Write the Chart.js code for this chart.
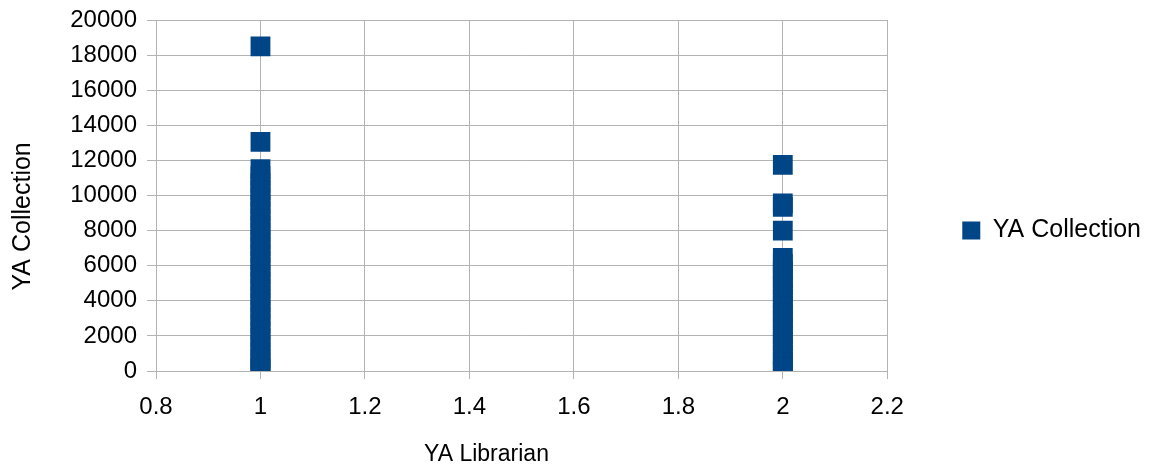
<!DOCTYPE html>
<html>
<head>
<meta charset="utf-8">
<script src="https://cdn.jsdelivr.net/npm/chart.js@4"></script>
<style>
	html, body { margin: 0; padding: 0; background: #ffffff; }
	#box { width: 1151px; height: 471px; }
</style>
</head>
<body>
<div id="box"><canvas id="my_chart" width="1151" height="471"></canvas></div>
<script>
// YA Librarian (x) vs YA Collection (y)
const librarianOne = [18500, 13050, 11500, 11100, 10700, 10300, 9900, 9500, 9100, 8700,
	8300, 7900, 7500, 7100, 6700, 6300, 5900, 5500, 5100, 4700, 4300, 3900, 3500,
	3100, 2700, 2300, 1900, 1500, 1100, 700, 400, 150, 0]
const librarianTwo = [11750, 9550, 9350, 8000, 6450, 6100, 5700, 5300, 4900, 4500,
	4100, 3700, 3300, 2900, 2500, 2100, 1700, 1300, 900, 500, 200, 0]
const xTicks = [0.8, 1, 1.2, 1.4, 1.6, 1.8, 2, 2.2]
const yTicks = [0, 2000, 4000, 6000, 8000, 10000, 12000, 14000, 16000, 18000, 20000]

const points = librarianOne.map(v => ({x: 1, y: v}))
	.concat(librarianTwo.map(v => ({x: 2, y: v})))

Chart.defaults.font.family = "'Liberation Sans', Arial, sans-serif"
Chart.defaults.font.size = 24
Chart.defaults.color = '#000000'

// nudge the legend up a little, LibreOffice style
const legendShift = {
	id: 'legendShift',
	afterLayout(chart) {
		chart.legend.top -= 15
		chart.legend.bottom -= 15
	}
}

var ctx = document.getElementById('my_chart')
var chart = new Chart(ctx, {
	type: 'scatter',
	data: {
		datasets: [{
			label: 'YA Collection',
			data: points,
			pointStyle: 'rect',
			pointRadius: 14,
			pointHoverRadius: 14,
			borderWidth: 0,
			backgroundColor: '#004586',
			borderColor: '#004586'
		}]
	},
	plugins: [legendShift],
	options: {
		responsive: false,
		animation: false,
		layout: { padding: { top: 20, left: 0, right: 0, bottom: 0 } },
		plugins: {
			tooltip: { enabled: false },
			legend: {
				position: 'right',
				labels: {
					boxWidth: 18,
					boxHeight: 18,
					padding: 75,
					font: { size: 25 },
					color: '#000000'
				}
			}
		},
		scales: {
			x: {
				type: 'linear',
				min: 0.8,
				max: 2.2,
				afterBuildTicks: s => { s.ticks = xTicks.map(v => ({value: v})) },
				afterFit: s => { s.height = 100 },
				ticks: { padding: 14, color: '#000000', callback: v => String(Math.round(v * 10) / 10) },
				grid: { color: '#b3b3b3', tickLength: 8 },
				border: { color: '#b3b3b3' },
				title: {
					display: true,
					text: 'YA Librarian           ',
					font: { size: 23 },
					padding: { top: 0, bottom: 3 },
					color: '#000000'
				}
			},
			y: {
				type: 'linear',
				min: 0,
				max: 20000,
				afterBuildTicks: s => { s.ticks = yTicks.map(v => ({value: v})) },
				afterFit: s => { s.width = 156; s.paddingTop = 0 },
				ticks: { padding: 10, color: '#000000', callback: v => String(v) },
				grid: { color: '#b3b3b3', tickLength: 9 },
				border: { color: '#b3b3b3' },
				title: {
					display: true,
					text: 'YA Collection      ',
					font: { size: 25 },
					padding: { top: 8, bottom: 0 },
					color: '#000000'
				}
			}
		}
	}
});
</script>
</body>
</html>
